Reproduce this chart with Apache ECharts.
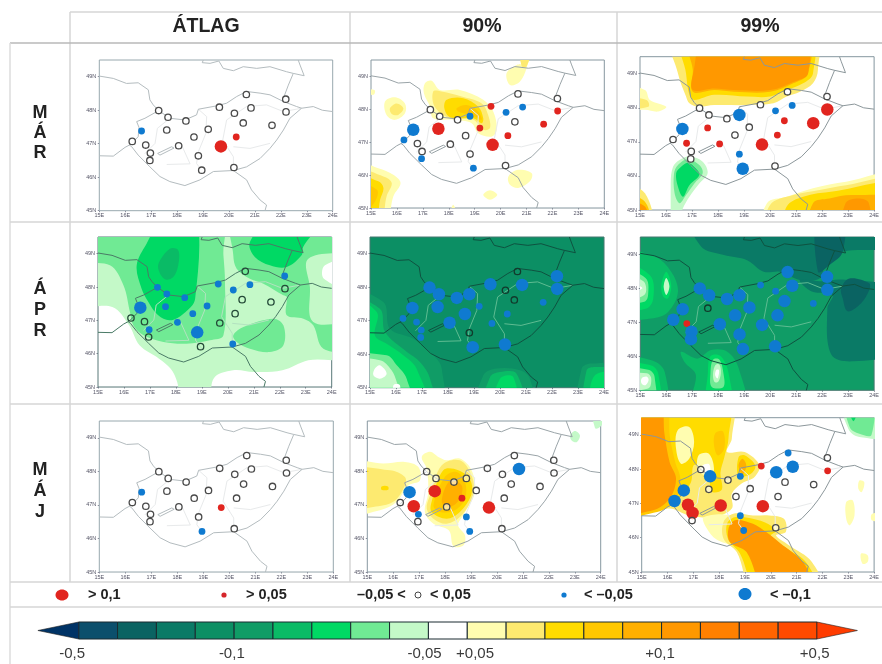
<!DOCTYPE html>
<html><head><meta charset="utf-8">
<style>html,body{margin:0;padding:0;background:#fff}#c{width:882px;height:664px}#c canvas{filter:blur(0.7px)}</style>
<script src="https://cdn.jsdelivr.net/npm/echarts@6/dist/echarts.min.js"></script>
</head><body><div id="c"></div>
<script>
const colHeads=['ÁTLAG','90%','99%'];
const rowHeads=[['M','Á','R'],['Á','P','R'],['M','Á','J']];
const lonTicks=['15E','16E','17E','18E','19E','20E','21E','22E','23E','24E'];
const latTicks=['45N','46N','47N','48N','49N'];
const barColors=['#0b4f6c','#0a6362','#0a7a66','#0c8f64','#109c66','#0abb66','#00d964','#70ea94','#c4f9c8','#ffffff','#fffdb0','#fdea70','#ffdc00','#ffc800','#ffb000','#ff9800','#ff8000','#ff6400','#ff4a00'];
const arrowColors=['#003366','#ff3c00'];
const barLabels=['-0,5','-0,1','-0,05','+0,05','+0,1','+0,5'];
const barLabelPos=[-0.17,3.94,8.9,10.2,14.96,18.94];

const stationLon=[17.29,17.65,18.34,17.6,19.2,18.65,18.06,16.79,16.27,16.63,16.97,16.95,18.82,18.95,19.69,20.28,20.19,19.63,20.21,20.67,20.85,20.55,21.66,22.19,22.2,18.82];
const stationLat=[47.99,47.79,47.68,47.41,47.43,47.2,46.94,46.96,47.07,47.38,46.72,46.5,46.64,46.21,46.92,47.2,46.29,48.09,47.91,48.47,48.07,47.62,47.55,48.33,47.95,47.79];
const classMarAvg='WWWWWWWWWbWWWWRrWWWWWWWWW.';
const classMar90='WWWRrWWWbBWbWbRrWrbWbWrWrb';
const classMar99='WWWrWWrrWBWWbBRrWWbWbrRWRB';
const classAprAvg='bbbbbbbWWBbWBWWWbbbWbWWbW.';
const classApr90='BBBBbBBbbBbbWBbbBBWWBWbBBB';
const classApr99='BBBWBBBrBBBBBBBBBbbBBBbBBB';
const classMayAvg='WWWWWWWWWbWWWbrWWWWWWWWWW.';
const classMay90='WWWRWrWRWBbWbbRWWWWWBWWWWW';
const classMay99='WBWWWWRRBBRWbbRWWrBbBWWWrb';

const borderNorthWest=[[15,49.02],[15.54,48.95],[16.05,48.8],[16.5,48.82],[16.89,48.61],[16.95,48.31],[17.08,48.16],[17.29,47.99]];
const borderHungary=[[17.29,47.99],[17.72,47.76],[18.3,47.71],[18.75,47.86],[18.82,48.03],[19.52,48.13],[19.91,48.21],[20.3,48.41],[20.68,48.56],[21.2,48.51],[21.58,48.46],[22.1,48.26],[22.61,48.11],[22.8,48.06],[22.35,47.76],[22.1,47.41],[21.84,47.11],[21.58,46.86],[21.2,46.56],[20.68,46.31],[20.17,46.2],[19.4,46.17],[18.88,45.92],[18.3,45.75],[17.72,45.87],[17.34,46.02],[16.95,46.31],[16.5,46.66],[16.25,46.91],[16.16,46.96],[16.25,47.01],[16.5,47.21],[16.53,47.49],[16.44,47.66],[16.76,47.76],[17.29,47.99]];
const borderSlovenia=[[15,46.64],[15.54,46.63],[15.99,46.89],[16.16,46.96]];
const borderSouth=[[20.17,46.2],[20.68,45.92],[20.87,45.62],[21.2,45.32],[21.45,45.17],[21.39,45]];
const borderEast=[[22.8,48.06],[23.25,48.11],[23.6,48.0],[24,47.96]];
const borderUkraine=[[22.1,48.26],[22.1,48.36],[22.29,48.75],[22.48,49.1],[22.9,49.03],[22.74,49.35],[22.67,49.5]];
const borderPoland=[[19.01,49.5],[18.97,49.42],[19.27,49.4],[19.61,49.47],[19.78,49.25],[20.17,49.18],[20.55,49.3],[21.07,49.25],[21.58,49.3],[22.22,49.15],[22.48,49.1]];
const riverDanube=[[18.82,48.03],[19.14,47.81],[19.11,47.31],[18.82,46.76],[18.75,46.41],[19.01,46.14]];
const riverTisza=[[22.8,48.06],[22.1,47.96],[21.45,48.16],[20.68,48.11],[19.91,47.71],[19.76,47.11],[20.17,46.61],[20.17,46.2]];
const riverKoros=[[21.58,47.01],[20.81,46.86],[20.17,46.91]];
const riverRaba=[[17.72,47.76],[17.24,47.46],[17.15,47.01],[16.75,46.7]];
const riverSio=[[18.15,47.0],[18.5,46.4],[17.6,46.38]];
const lakeBalaton=[[17.25,46.71],[17.79,46.91],[17.88,46.87],[17.34,46.66],[17.25,46.71]];

const contourMarAvg=[];
const contourMar90=[
[10,[[17.08,48.79],[17.34,48.87],[17.66,48.59],[18.43,48.59],[19.33,48.29],[19.72,47.93],[19.85,47.38],[19.65,47.17],[19.14,47.27],[18.88,47.58],[18.17,47.68],[17.4,47.73],[17.28,48.08],[17.04,48.49]]],
[11,[[17.4,48.54],[17.72,48.54],[18.5,48.39],[19.27,48.18],[19.52,47.83],[19.59,47.43],[19.33,47.38],[18.95,47.68],[18.05,47.73],[17.46,48.08]]],
[12,[[17.92,48.29],[18.56,48.34],[19.14,48.08],[19.33,47.73],[19.27,47.58],[18.95,47.73],[18.05,47.76],[17.83,48.03]]],
[13,[[18.3,48.03],[18.69,48.13],[19.14,47.93],[19.27,47.68],[18.88,47.83],[18.37,47.93]]],
[10,[[15.54,48.24],[15.93,48.37],[16.31,48.18],[16.31,47.88],[15.93,47.68],[15.6,47.83]]],
[11,[[15.73,48.03],[15.99,48.18],[16.25,48.03],[16.05,47.83],[15.8,47.86]]],
[10,[[20.23,49.1],[20.62,49.35],[20.87,49.4],[21.32,49.5],[21,49.25],[20.74,48.84],[20.36,48.74]]],
[11,[[20.68,49.5],[21.32,49.5],[21,49.3],[20.81,49.32]]],
[10,[[15,48.64],[15.13,48.59],[15.09,48.44],[15,48.49]]],
[10,[[15,46.47],[15.28,46.21],[15.86,46.01],[16.14,45.76],[15.86,45.35],[15.48,45],[15,45]]],
[11,[[15,46.21],[15.48,45.96],[15.8,45.76],[15.6,45.35],[15.28,45],[15,45]]],
[12,[[15,46.06],[15.28,45.81],[15.48,45.61],[15.35,45.25],[15.09,45],[15,45]]],
[13,[[15,45.81],[15.22,45.56],[15.12,45.15],[15,45]]],
[10,[[20.3,45.96],[20.68,46.16],[21.2,46.06],[21.13,45.81],[20.68,45.61],[20.36,45.71]]],
[10,[[19.33,45.4],[19.59,45.54],[19.87,45.4],[19.59,45.25]]],
[10,[[17.98,45],[18.17,45.1],[18.43,45]]]
];
const contourMar99=[
[11,[[16.2,49.5],[16.46,49.01],[16.77,48.33],[16.9,48.13],[17.22,48.03],[17.85,48.08],[19.12,48.08],[20.13,48.13],[20.64,48.33],[21.15,48.47],[21.65,48.72],[21.84,49.11],[21.72,49.5]]],
[12,[[16.58,49.5],[16.77,49.01],[16.9,48.38],[17.09,48.23],[17.85,48.38],[19.12,48.33],[20,48.33],[20.64,48.52],[21.27,48.72],[21.65,49.01],[21.53,49.5]]],
[14,[[16.84,49.5],[17.03,49.11],[17.03,48.47],[17.85,48.52],[18.61,48.47],[20,48.47],[20.89,48.72],[21.46,49.01],[21.4,49.5]]],
[15,[[17.03,48.96],[17.6,49.5],[21.27,49.5],[21.46,49.01],[20.89,48.76],[20,48.52],[18.61,48.52],[17.85,48.57],[17.03,48.52]]],
[10,[[15,48.72],[15.19,48.52],[15.38,48.23],[16.01,48.03],[15.7,47.89],[15.19,47.94],[15,47.94]]],
[11,[[15,48.33],[15.25,48.23],[15.32,48.03],[15,47.98]]],
[8,[[16.9,46.57],[17.41,46.42],[17.6,46.08],[17.28,45.78],[16.9,45.39],[16.65,45.05],[16.27,45],[16.18,45.78],[16.27,46.27],[16.52,46.47]]],
[7,[[16.84,46.49],[17.28,46.32],[17.41,46.08],[17.09,45.78],[16.77,45.44],[16.52,45.2],[16.33,45.49],[16.31,46.08],[16.46,46.32]]],
[6,[[16.84,46.39],[17.15,46.22],[17.28,46.03],[16.9,45.73],[16.65,45.39],[16.46,45.68],[16.39,46.08],[16.58,46.27]]],
[11,[[15,45.73],[15.19,45.49],[15.44,45],[15,45]]],
[13,[[15,45.44],[15.19,45.24],[15.32,45],[15,45]]],
[15,[[15,45.2],[15.19,45.1],[15.19,45],[15,45]]],
[10,[[19.88,45.2],[20.64,45.39],[21.65,45.64],[22.92,45.83],[24,46.03],[24,45],[19.75,45]]],
[11,[[20,45.15],[20.89,45.44],[21.9,45.59],[22.92,45.73],[24,45.88],[24,45],[19.88,45]]],
[12,[[20.64,45.1],[21.27,45.39],[22.41,45.54],[24,45.73],[24,45],[20.51,45]]],
[14,[[21.65,45.2],[22.28,45.34],[23.17,45.44],[24,45.29],[24,45],[21.53,45]]],
[15,[[22.9,45.2],[23.4,45.34],[23.8,45.2],[23.8,45],[22.8,45]]]
];
const contourAprAvg=[
[8,[[15,49.5],[24,49.5],[24,46],[23.1,45.8],[22.1,45.5],[21,45.45],[20.2,45.5],[19.45,45.25],[19.25,45],[18.3,45],[18.05,45.15],[17.8,45.55],[17.35,45.85],[16.6,46.25],[16.2,46.85],[15.55,47.4],[15,47.5]]],
[7,[[15,49.5],[19.7,49.5],[19.83,48.95],[19.89,48.15],[19.83,46.55],[19.31,46.4],[18.41,46.3],[17.52,46.35],[16.75,46.55],[16.36,46.85],[16.23,47.25],[15.98,48.05],[15.46,48.65],[15,48.85]]],
[7,[[20.21,49.5],[24,49.5],[24,49.2],[23.1,48.85],[23.16,48],[23.29,46.95],[24,46.85],[24,46.1],[23.68,46.15],[23.29,46.85],[22.91,47.05],[22.27,47.15],[22.27,47.7],[22.14,47.75],[21.37,48.1],[20.85,48.25],[20.34,48.55],[20.21,48.95]]],
[6,[[16.87,49.3],[17.64,49.5],[18.74,49.5],[18.74,47.65],[18.29,47.2],[17.77,47],[17.32,47.15],[16.94,47.55],[16.68,47.95],[16.49,48.65]]],
[5,[[17.39,48.8],[17.77,49.15],[18.09,49.1],[18.09,48.65],[17.9,48.3],[17.58,48.23],[17.32,48.55]]],
[6,[[20.85,49.35],[21.88,49.5],[23.75,49.5],[22.9,49.2],[22.84,48.95],[22.27,48.6],[21.62,48.65],[21.04,48.9]]],
[7,[[20.21,46.55],[20.6,46.8],[21.75,47.05],[22.14,46.85],[22.14,46.25],[21.62,46.05],[20.85,46.15],[20.34,46.35]]],
[9,[[24,48.85],[23.74,48.65],[23.7,48.25],[24,47.9]]]
];
const contourApr90=[
[4,[[15,47.86],[15.51,47.56],[15.77,46.76],[16.67,46.46],[17.44,45.97],[17.76,45.57],[17.69,45],[15,45]]],
[5,[[15,47.66],[15.38,47.36],[15.58,46.66],[16.41,46.07],[16.92,45.77],[17.31,45.27],[17.44,45],[15,45]]],
[6,[[15,47.71],[15.26,47.26],[15.19,46.56],[15.64,46.31],[16.28,45.97],[16.79,45.57],[17.18,45],[15,45]]],
[7,[[15,45.87],[15.64,45.97],[16.03,45.67],[16.41,45.27],[16.6,45],[15,45]]],
[8,[[15,45.77],[15.38,45.82],[15.83,45.52],[16.03,45.17],[16.41,45],[15,45]]],
[9,[[15.19,45.57],[15.38,45.67],[15.64,45.42],[15.38,45.27],[15.13,45.37]]],
[9,[[15.9,45.07],[16.15,45.07],[16.15,45],[15.9,45]]],
[4,[[19.1,45],[19.36,45.37],[19.87,45.57],[20.77,45.52],[21.15,45.27],[21.28,45]]],
[5,[[19.36,45],[19.62,45.32],[20,45.47],[20.64,45.42],[20.9,45]]],
[6,[[19.74,45],[20,45.27],[20.51,45.32],[20.64,45]]],
[4,[[23.08,45],[23.14,45.57],[23.53,45.72],[24,45.62],[24,45]]],
[5,[[23.33,45],[23.33,45.52],[23.72,45.62],[24,45.47],[24,45]]],
[6,[[23.59,45],[23.65,45.37],[24,45.32],[24,45]]]
];
const contourApr99=[
[2,[[16.89,49.5],[17.34,49.22],[18.22,48.97],[19.11,48.82],[19.75,48.48],[20.38,48.48],[21.14,48.24],[21.9,48.28],[22.16,48.77],[22.79,49.07],[24,49.26],[24,49.5]]],
[1,[[21.84,49.5],[21.84,48.48],[22.28,48.68],[22.79,49.07],[22.79,49.5]]],
[2,[[21.14,48.24],[22,48.2],[22.79,48.25],[24,47.9],[24,46.2],[23.2,45.85],[22.35,46.05],[22.2,47.4],[22.4,47.8],[21.6,47.9]]],
[1,[[22.73,47.99],[23.05,48.28],[23.81,48.14],[23.81,47.94],[23.49,47.55],[22.98,47.32],[22.79,47.7]]],
[5,[[15,49.07],[15.56,48.92],[16.19,48.48],[16.45,47.89],[16.07,47.3],[15.43,47.11],[15,47.16]]],
[6,[[15,48.77],[15.37,48.38],[15.5,47.7],[15.24,47.4],[15,47.4]]],
[6,[[15.81,48.09],[16,48.48],[16.19,48.09],[16.07,47.7],[15.88,47.75]]],
[7,[[15,48.55],[15.2,48.3],[15.3,47.8],[15.15,47.6],[15,47.55]]],
[8,[[15,48.4],[15.12,48.2],[15.15,47.8],[15,47.65]]],
[8,[[15.9,48.05],[16,48.3],[16.12,48.05],[16,47.8]]],
[9,[[15,48.2],[15.08,48],[15,47.8]]],
[5,[[15,45.93],[15.43,45.88],[15.94,45.54],[15.94,45],[15,45]]],
[6,[[15,45.74],[15.37,45.74],[15.69,45.49],[15.69,45],[15,45]]],
[7,[[15,45.6],[15.3,45.6],[15.55,45.4],[15.5,45],[15,45]]],
[8,[[15,45.45],[15.25,45.5],[15.42,45.35],[15.3,45.05],[15,45.05]]],
[9,[[15.05,45.35],[15.25,45.4],[15.32,45.3],[15.2,45.15],[15.05,45.2]]],
[5,[[16.57,46.13],[17.21,45.93],[17.72,46.18],[18.35,46.13],[18.79,45.64],[19.05,45],[16.89,45],[17.14,45.44],[16.7,45.83]]],
[6,[[17.7,46],[18.1,46],[18.4,45.5],[18.5,45],[17.55,45],[17.6,45.5]]],
[7,[[17.8,45.9],[18.05,45.9],[18.2,45.5],[18.2,45.1],[17.75,45.1],[17.7,45.5]]],
[8,[[17.9,45.75],[18.05,45.75],[18.1,45.5],[18,45.25],[17.85,45.25],[17.8,45.5]]],
[9,[[17.93,45.6],[18.02,45.6],[18.03,45.5],[17.97,45.35],[17.88,45.45]]]
];
const contourMayAvg=[];
const contourMay90=[
[10,[[15,48.28],[15.62,48.23],[16.45,48.28],[16.97,48.13],[17.03,47.73],[16.58,47.58],[16.13,47.09],[15.49,46.84],[15,46.74]]],
[11,[[15,48.03],[15.88,48.03],[16.45,47.83],[16.45,47.58],[16,47.09],[15.23,46.94],[15,46.89]]],
[12,[[15.55,47.55],[15.8,47.55],[15.8,47.45],[15.55,47.45]]],
[12,[[15,48.1],[15.05,48],[15,47.9]]],
[10,[[17.1,48.43],[17.42,48.58],[17.74,48.43],[18.06,48.33],[18.57,48.38],[19.02,48.03],[19.15,47.38],[18.7,46.69],[18.5,46.39],[18.77,46.09],[18.7,45.79],[18.32,45.77],[18.15,46.24],[17.55,46.44],[17.22,46.79],[17.35,47.38],[17.29,48.08]]],
[11,[[17.42,47.28],[17.87,48.18],[18.57,48.33],[19.02,47.88],[19.09,47.33],[18.64,46.69],[18.06,46.44],[17.55,46.59],[17.29,46.89]]],
[12,[[17.48,47.09],[17.93,48.03],[18.51,48.03],[18.98,47.73],[19,47.28],[18.57,46.79],[18.06,46.59],[17.48,46.79]]],
[13,[[17.55,46.99],[17.99,47.83],[18.44,47.98],[18.77,47.68],[18.77,47.18],[18.38,46.84],[17.8,46.79]]],
[14,[[17.87,47.09],[18.19,47.73],[18.64,47.58],[18.57,47.18],[18.19,46.94]]],
[8,[[22.82,49.07],[23.01,49.2],[23.2,49.07],[23.07,48.87],[22.88,48.92]]],
[8,[[23.65,49.5],[24,49.5],[23.97,49.32],[23.78,49.29]]]
];
const contourMay99=[
[11,[[15,49.5],[18.42,49.5],[18.49,48.89],[18.3,48.5],[18.99,48.5],[19.56,48.11],[19.37,47.77],[18.87,47.58],[18.49,47.28],[18.49,46.85],[17.79,46.6],[16.84,46.65],[16.08,46.85],[15,46.75]]],
[12,[[15,49.5],[18.3,49.5],[18.36,48.89],[18.2,48.35],[18.05,47.9],[18.1,47.4],[17.7,47.35],[17.6,47.8],[17.2,48.1],[17,48.1],[16.9,47.6],[16.4,47.1],[16,46.9],[15,46.9]]],
[12,[[18.75,48.35],[19,48.4],[19.4,48.1],[19.2,47.85],[18.75,47.8]]],
[10,[[16.39,49.13],[16.84,49.23],[17.03,48.79],[16.84,48.3],[16.52,48.16],[16.33,48.6]]],
[10,[[17.2,48.4],[17.6,48.45],[17.8,48],[17.6,47.8],[17.2,47.95]]],
[9,[[17.35,48.1],[17.6,48.15],[17.65,47.95],[17.4,47.9]]],
[13,[[17.85,49.05],[18.15,49.1],[18.2,48.6],[17.95,48.4],[17.8,48.7]]],
[14,[[18.9,48.3],[19.05,48.1],[18.9,47.85],[18.75,48.1]]],
[13,[[15,49.5],[15.85,49.5],[16.1,48.9],[16.3,48.2],[16.5,47.7],[16.3,47.1],[15.6,46.75],[15,46.75]]],
[15,[[15,49.5],[15.63,49.5],[15.89,48.98],[16.08,48.21],[16.33,47.72],[16.08,47.14],[15.44,46.8],[15,46.8]]],
[10,[[17.4,46.6],[18.5,46.6],[18.5,45.85],[17.9,45.95],[17.5,46.3]]],
[11,[[18.17,46.46],[18.55,46.7],[19.31,46.65],[19.94,46.65],[20.51,46.55],[20.58,46.17],[20.2,46.07],[20.7,45.78],[21.59,45.29],[22.1,45],[19.44,45],[18.68,45.58],[18.17,45.97]]],
[12,[[18.3,46.4],[18.6,46.6],[19.3,46.55],[19.9,46.4],[20.2,46.2],[20,46.05],[20.6,45.7],[21.4,45.25],[21.85,45],[19.6,45],[18.8,45.55],[18.35,45.95]]],
[15,[[18.36,46.26],[18.61,46.51],[19.31,46.41],[19.82,46.17],[20.32,45.87],[21.34,45.19],[21.53,45],[19.88,45],[19.06,45.58],[18.42,45.87]]],
[8,[[22.73,49.5],[24,49.5],[24,48.98],[23.43,48.94],[23,49.18]]],
[7,[[22.86,49.5],[23.9,49.5],[23.9,49],[23.43,49.03],[23.05,49.23]]],
[6,[[22.92,49.5],[23.43,49.5],[23.2,49.4]]],
[10,[[23.43,47.67],[23.62,47.62],[23.52,47.33],[23.39,47.43]]],
[10,[[22.92,47.04],[23.17,47.09],[23.24,46.65],[23.05,46.36],[22.92,46.55]]],
[10,[[23.49,45.53],[23.75,45.49],[23.75,45.29],[23.55,45.24]]],
[10,[[23.93,46.7],[24,46.75],[24,46.45],[23.93,46.5]]]
];

const panels=[
{r:[99.3,60,233.4,150.7],classes:classMarAvg,contours:contourMarAvg,base:'#ffffff',line:'#b4bcbf',inner:'#e8eaeb',frame:'#98a8ae',ring:'#4a4a4a',ringFill:'#ffffff'},
{r:[371,60,233.3,148],classes:classMar90,contours:contourMar90,base:'#ffffff',line:'#9aa4a8',inner:'#e8eaeb',frame:'#8798a0',ring:'#4a4a4a',ringFill:'#ffffff'},
{r:[640,56.7,236.7,153.3],classes:classMar99,contours:contourMar99,base:'#ffffff',line:'#8c979b',inner:'#e8eaeb',frame:'#8798a0',ring:'#4a4a4a',ringFill:'#ffffff'},
{r:[98,237,233.7,150],classes:classAprAvg,contours:contourAprAvg,base:'#ffffff',line:'#4a7a66',inner:'#b3e2c0',frame:'#587878',ring:'#244a38',ringFill:'rgba(255,255,255,0)'},
{r:[370,237,234,150.7],classes:classApr90,contours:contourApr90,base:barColors[3],line:'#0f5240',inner:'#5fbc92',frame:'#467870',ring:'#123a2c',ringFill:'rgba(255,255,255,0)'},
{r:[640.3,237,236.4,153.3],classes:classApr99,contours:contourApr99,base:barColors[4],line:'#0f5240',inner:'#5fbc92',frame:'#467870',ring:'#123a2c',ringFill:'rgba(255,255,255,0)'},
{r:[99.3,421,234,151],classes:classMayAvg,contours:contourMayAvg,base:'#ffffff',line:'#b4bcbf',inner:'#e8eaeb',frame:'#98a8ae',ring:'#4a4a4a',ringFill:'#ffffff'},
{r:[367.3,421,233.4,151],classes:classMay90,contours:contourMay90,base:'#ffffff',line:'#9aa4a8',inner:'#e8eaeb',frame:'#8798a0',ring:'#4a4a4a',ringFill:'rgba(255,255,255,0.6)'},
{r:[641.7,417.7,236.6,154.3],classes:classMay99,contours:contourMay99,base:'#ffffff',line:'#8c979b',inner:'#e8eaeb',frame:'#8798a0',ring:'#4a4a4a',ringFill:'rgba(255,255,255,0.6)'}
];
const outerLines=[borderNorthWest,borderHungary,borderSlovenia,borderSouth,borderEast,borderUkraine,borderPoland];
const innerLines=[riverDanube,riverTisza,riverKoros,riverRaba,riverSio];
const styleOf={W:{size:6.4,bw:1.3},r:{size:6.8,color:'#e1251f'},R:{size:12.5,color:'#e1251f'},b:{size:6.8,color:'#0f7ad0'},B:{size:12.5,color:'#0f7ad0'}};
const FONT='"Liberation Sans",Arial,sans-serif';

const option={animation:false,backgroundColor:'#fff',grid:[],xAxis:[],yAxis:[],series:[],graphic:[]};

panels.forEach((p,i)=>{
  option.grid.push({left:p.r[0],top:p.r[1],width:p.r[2],height:p.r[3],show:true,backgroundColor:p.base,borderColor:p.frame,borderWidth:1,z:1});
  option.xAxis.push({type:'value',gridIndex:i,min:15,max:24,interval:1,
    axisLine:{show:false},axisTick:{length:1.5,lineStyle:{color:'#889'}},
    splitLine:{show:true,lineStyle:{color:'#f0f2f3',width:0.5}},
    axisLabel:{fontSize:5.5,color:'#556',margin:2,fontFamily:FONT,formatter:v=>lonTicks[v-15]||''}});
  option.yAxis.push({type:'value',gridIndex:i,min:45,max:49.5,interval:1,
    axisLine:{show:false},axisTick:{length:1.5,lineStyle:{color:'#889'}},
    splitLine:{show:true,lineStyle:{color:'#f0f2f3',width:0.5}},
    axisLabel:{fontSize:5.5,color:'#556',margin:3,showMaxLabel:false,fontFamily:FONT,formatter:v=>latTicks[v-45]||''}});
  const polys=p.contours;
  option.series.push({type:'custom',xAxisIndex:i,yAxisIndex:i,silent:true,clip:true,z:2,
    data:polys.map((c,k)=>[k]),
    renderItem:(params,api)=>{
      const c=polys[api.value(0)];
      const pts=c[1].map(q=>{const a=api.coord(q).slice();
        if(q[0]<=15)a[0]-=25; if(q[0]>=24)a[0]+=25; if(q[1]<=45)a[1]+=25; if(q[1]>=49.5)a[1]-=25; return a;});
      return {type:'polygon',shape:{points:pts,smooth:0.35},style:{fill:barColors[c[0]],stroke:null}};
    }});
  innerLines.forEach(l=>option.series.push({type:'line',xAxisIndex:i,yAxisIndex:i,data:l,symbol:'none',silent:true,clip:true,z:3,lineStyle:{color:p.inner,width:1}}));
  option.series.push({type:'line',xAxisIndex:i,yAxisIndex:i,data:lakeBalaton,symbol:'none',silent:true,clip:true,z:3,lineStyle:{color:p.line,width:1}});
  outerLines.forEach(l=>option.series.push({type:'line',xAxisIndex:i,yAxisIndex:i,data:l,symbol:'none',silent:true,clip:true,z:4,lineStyle:{color:p.line,width:1}}));
  const pts=[];
  stationLon.forEach((lon,k)=>{
    const s=styleOf[p.classes[k]]; if(!s) return;
    pts.push({value:[lon,stationLat[k]],symbolSize:s.size,itemStyle:{color:s.color||p.ringFill,borderColor:s.bw?p.ring:s.color,borderWidth:s.bw||0,opacity:1}});
  });
  option.series.push({type:'scatter',xAxisIndex:i,yAxisIndex:i,data:pts,symbol:'circle',silent:true,z:5});
});

const bi=panels.length;
option.grid.push({left:78.7,top:622,width:738.3,height:17,show:false});
option.xAxis.push({type:'value',gridIndex:bi,min:0,max:19,show:false});
option.yAxis.push({type:'value',gridIndex:bi,min:0,max:1,show:false});
option.series.push({type:'custom',xAxisIndex:bi,yAxisIndex:bi,silent:true,clip:false,z:5,data:barColors.map((c,k)=>[k]),
  renderItem:(params,api)=>{const k=api.value(0);const a=api.coord([k,1]),b=api.coord([k+1,0]);
    return {type:'rect',shape:{x:a[0],y:a[1],width:b[0]-a[0],height:b[1]-a[1]},style:{fill:barColors[k],stroke:'#1a2a30',lineWidth:1}};}});
option.series.push({type:'custom',xAxisIndex:bi,yAxisIndex:bi,silent:true,clip:false,z:5,data:[[0],[1]],
  renderItem:(params,api)=>{const k=api.value(0);
    const pts=k===0?[[0,1],[-1.05,0.5],[0,0]]:[[19,1],[20.04,0.5],[19,0]];
    return {type:'polygon',shape:{points:pts.map(q=>api.coord(q))},style:{fill:arrowColors[k],stroke:'#222',lineWidth:0.6}};}});
option.series.push({type:'custom',xAxisIndex:bi,yAxisIndex:bi,silent:true,clip:false,z:5,data:barLabels.map((t,k)=>[k]),
  renderItem:(params,api)=>{const k=api.value(0);const c=api.coord([barLabelPos[k],-0.88]);
    return {type:'text',style:{text:barLabels[k],x:c[0],y:c[1],align:'center',verticalAlign:'middle',fontSize:15,fontFamily:FONT,fill:'#3a3a3a'}};}});

const tableColor='#d6d6d6';
const seg=(x1,y1,x2,y2,c,w)=>({type:'line',silent:true,z:0,shape:{x1,y1,x2,y2},style:{stroke:c||tableColor,lineWidth:w||1.5}});
const txt=(t,x,y,f,fill,al)=>({type:'text',silent:true,z:10,x,y,style:{text:t,font:f,fill:fill||'#222',align:al||'center',verticalAlign:'middle'}});
option.graphic.push(seg(70,12,882,12),seg(70,12,70,582),seg(350,12,350,582),seg(617,12,617,582),
  seg(10,43,882,43,'#b9b9b9'),seg(10,43,10,664,'#dddddd'),seg(10,222,882,222),seg(10,404,882,404),seg(10,582,882,582),seg(10,607,882,607));
[206,482,760].forEach((x,i)=>option.graphic.push(txt(colHeads[i],x,27,'bold 19.5px '+FONT)));
const rowY=[[113,133,153],[289,310,331],[470,491,512]];
rowHeads.forEach((r,i)=>r.forEach((t,j)=>option.graphic.push(txt(t,40,rowY[i][j],'bold 18px '+FONT))));
const lf='bold 14.5px '+FONT;
option.graphic.push(
 {type:'ellipse',silent:true,z:10,shape:{cx:62,cy:595,rx:6.5,ry:5.5},style:{fill:'#e1251f'}},
 txt('> 0,1',88,595,lf,'#222','left'),
 {type:'circle',silent:true,z:10,shape:{cx:224,cy:595,r:2.6},style:{fill:'#d5262b'}},
 txt('> 0,05',246,595,lf,'#222','left'),
 txt('–0,05 <',357,595,lf,'#222','left'),
 {type:'circle',silent:true,z:10,shape:{cx:418,cy:595,r:3},style:{fill:'#fff',stroke:'#444',lineWidth:1}},
 txt('< 0,05',430,595,lf,'#222','left'),
 {type:'circle',silent:true,z:10,shape:{cx:564,cy:595,r:2.6},style:{fill:'#0f7ad0'}},
 txt('< –0,05',584,595,lf,'#222','left'),
 {type:'ellipse',silent:true,z:10,shape:{cx:745,cy:594,rx:6.5,ry:6},style:{fill:'#0f7ad0'}},
 txt('< –0,1',770,595,lf,'#222','left')
);

const chart=echarts.init(document.getElementById('c'),null,{renderer:'canvas',width:882,height:664});
chart.setOption(option);
</script></body></html>
